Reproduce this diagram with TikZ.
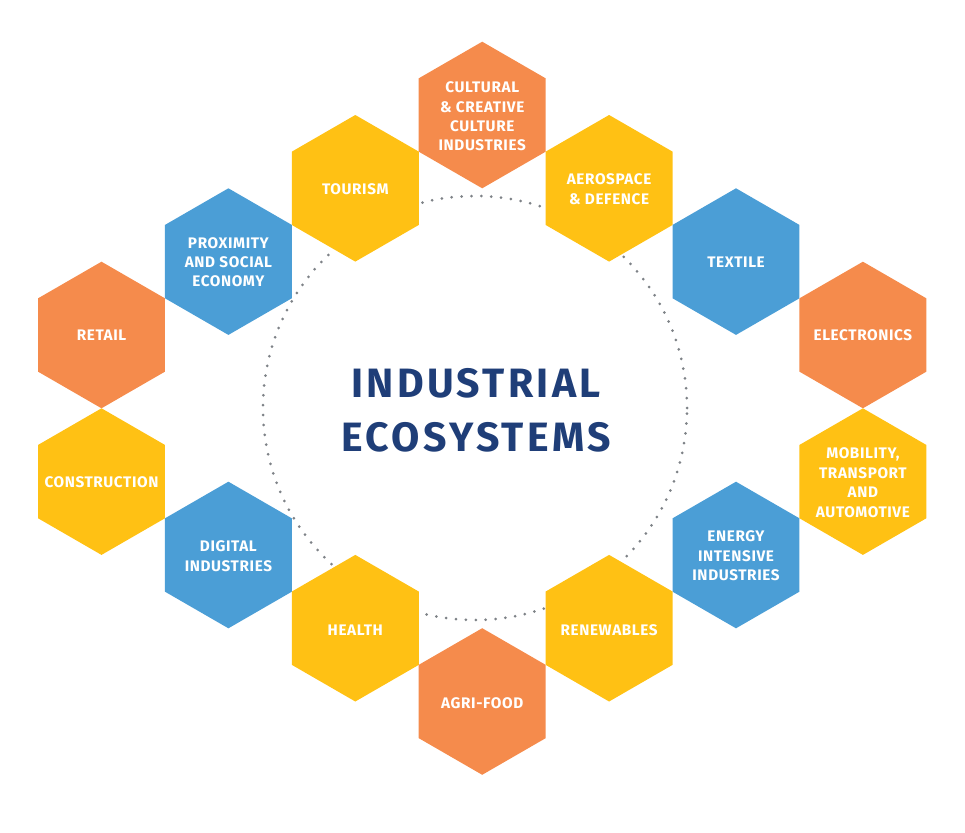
\documentclass[tikz,border=0pt]{standalone}
\usepackage{fontspec}
\setmainfont{Fira Sans}
\newfontfamily\hexfont{Fira Sans}[LetterSpace=4]
\newfontfamily\titlefont{Fira Sans}[LetterSpace=8]
\usetikzlibrary{shapes.geometric}
\definecolor{hexorange}{HTML}{F58B4C}
\definecolor{hexyellow}{HTML}{FFC114}
\definecolor{hexblue}{HTML}{4B9ED6}
\definecolor{titleblue}{HTML}{1F3E78}
\definecolor{dotgray}{HTML}{7E8287}
\tikzset{
  hexbox/.style={regular polygon, regular polygon sides=6, shape border rotate=30,
    minimum size=146.6pt, inner sep=0pt, outer sep=0pt, draw=none},
  hexo/.style={hexbox, fill=hexorange},
  hexy/.style={hexbox, fill=hexyellow},
  hexb/.style={hexbox, fill=hexblue},
  hexlabel/.style={inner sep=0pt, text=white, align=center,
    font=\hexfont\bfseries\fontsize{15.3}{19.4}\selectfont},
  ringline/.style={draw=dotgray, line width=3pt, line cap=round, dash pattern=on 0pt off 9.9pt},
  titletext/.style={text=titleblue, align=center, font=\titlefont\bfseries\fontsize{41}{54}\selectfont}
}
\begin{document}
\begin{tikzpicture}[x=1pt,y=-1pt]
\useasboundingbox (0,0) rectangle (965,832);
\node[circle, minimum size=424pt, inner sep=0pt, ringline] (ring) at (475,408) {};
\node[titletext] (title) at (476,410) {INDUSTRIAL\\ECOSYSTEMS};
\node[hexo] (cult) at (482.2,115) {};
\node[hexy] (tour) at (355.3,188.3) {};
\node[hexy] (aero) at (609.1,188.3) {};
\node[hexb] (prox) at (228.4,261.6) {};
\node[hexb] (texti) at (736,261.6) {};
\node[hexo] (retail) at (101.5,335) {};
\node[hexo] (elec) at (862.9,335) {};
\node[hexy] (constr) at (101.5,481.6) {};
\node[hexy] (mob) at (862.9,481.6) {};
\node[hexb] (digi) at (228.4,555) {};
\node[hexb] (energy) at (736,555) {};
\node[hexy] (health) at (355.3,628.2) {};
\node[hexy] (renew) at (609.1,628.2) {};
\node[hexo] (agri) at (482.2,701.5) {};
\node[hexlabel] (cultT) at ([yshift=-1.5pt]cult) {CULTURAL\\\& CREATIVE\\CULTURE\\INDUSTRIES};
\node[hexlabel] (tourT) at ([yshift=-0.5pt]tour) {TOURISM};
\node[hexlabel] (aeroT) at ([yshift=-1pt]aero) {AEROSPACE\\\& DEFENCE};
\node[hexlabel] (proxT) at ([yshift=-0.5pt]prox) {PROXIMITY\\AND SOCIAL\\ECONOMY};
\node[hexlabel] (textiT) at ([yshift=-0.5pt]texti) {TEXTILE};
\node[hexlabel] (retailT) at ([yshift=-0.5pt]retail) {RETAIL};
\node[hexlabel] (elecT) at ([yshift=-0.5pt]elec) {ELECTRONICS};
\node[hexlabel] (constrT) at ([yshift=-0.5pt]constr) {CONSTRUCTION};
\node[hexlabel] (mobT) at ([yshift=-1pt]mob) {MOBILITY,\\TRANSPORT\\AND\\AUTOMOTIVE};
\node[hexlabel] (digiT) at ([yshift=-1pt]digi) {DIGITAL\\INDUSTRIES};
\node[hexlabel] (energyT) at ([yshift=-1pt]energy) {ENERGY\\INTENSIVE\\INDUSTRIES};
\node[hexlabel] (healthT) at ([yshift=-1.5pt]health) {HEALTH};
\node[hexlabel] (renewT) at ([yshift=-1.5pt]renew) {RENEWABLES};
\node[hexlabel] (agriT) at ([yshift=-1.5pt]agri) {AGRI-FOOD};
\end{tikzpicture}
\end{document}
